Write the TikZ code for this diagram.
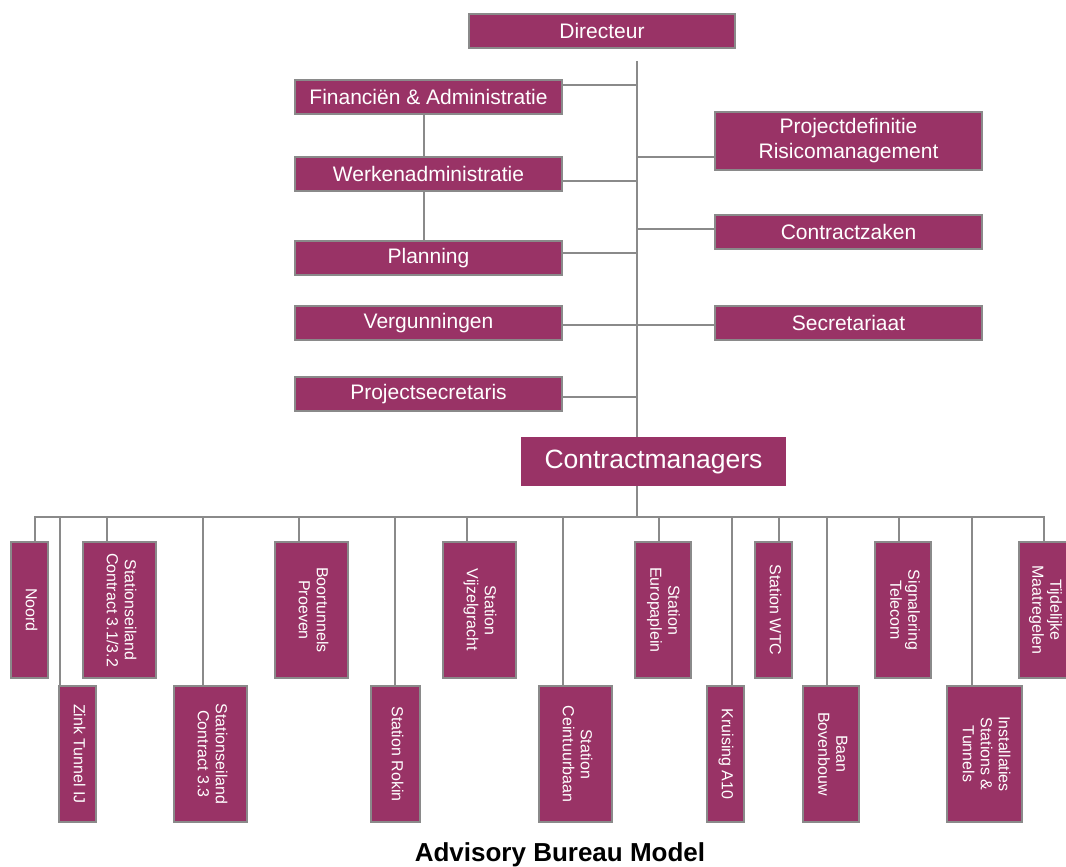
\documentclass[tikz,border=0pt]{standalone}
\usepackage{fontspec}
\setmainfont{Liberation Sans}
\definecolor{plum}{HTML}{993366}
\definecolor{lgray}{HTML}{8A8A8A}
\newcommand{\vtxt}[1]{\rotatebox{-90}{\begin{tabular}{@{}c@{}}#1\end{tabular}}}
\begin{document}
\begin{tikzpicture}[x=1pt,y=-1pt,
  hbox/.style={fill=plum, draw=lgray, line width=2pt, text=white, inner sep=0pt, outer sep=0pt,
    font=\fontsize{21}{25}\selectfont, align=center, minimum width=267pt, minimum height=34pt},
  vbox/.style={fill=plum, draw=lgray, line width=2pt, text=white, inner sep=0pt, outer sep=0pt,
    font=\fontsize{16}{18}\selectfont, minimum height=136pt},
  conn/.style={draw=lgray, line width=2pt}]
\useasboundingbox (0,0) rectangle (1066,867);

% upper boxes
\node[hbox, minimum width=266pt] (dir) at (602,31) {Directeur};
\node[hbox] (fin)  at (428.5,97)  {Financiën \& Administratie};
\node[hbox] (werk) at (428.5,174) {Werkenadministratie};
\node[hbox] (plan) at (428.5,258) {Planning};
\node[hbox] (verg) at (428.5,323) {Vergunningen};
\node[hbox] (psec) at (428.5,394) {Projectsecretaris};
\node[hbox, minimum height=58pt] (pdef) at (848.5,141) {Projectdefinitie\\Risicomanagement};
\node[hbox] (cz)   at (848.5,232) {Contractzaken};
\node[hbox] (sec)  at (848.5,323) {Secretariaat};
\node[hbox, draw=none, minimum width=265pt, minimum height=49pt, font=\fontsize{26.5}{30}\selectfont] (cm) at (653.5,461.5) {Contractmanagers};

% spine
\coordinate (top) at (637,61);
\draw[conn] (top) -- (top |- cm.north);
\coordinate (bus) at (637,517);
\draw[conn] (top |- cm.south) -- (bus);

% side connectors
\coordinate (j1) at (637,85);  \draw[conn] (fin.east |- j1) -- (j1);
\coordinate (j2) at (637,181); \draw[conn] (werk.east |- j2) -- (j2);
\coordinate (j3) at (637,157); \draw[conn] (j3) -- (pdef.west |- j3);
\coordinate (j4) at (637,253); \draw[conn] (plan.east |- j4) -- (j4);
\coordinate (j5) at (637,229); \draw[conn] (j5) -- (cz.west |- j5);
\coordinate (j6) at (637,325); \draw[conn] (verg.east |- j6) -- (sec.west |- j6);
\coordinate (j7) at (637,397); \draw[conn] (psec.east |- j7) -- (j7);
\coordinate (v) at (424,0);
\draw[conn] (fin.south -| v) -- (werk.north -| v);
\draw[conn] (werk.south -| v) -- (plan.north -| v);

% bottom boxes
\node[vbox, minimum width=37pt] (noord) at (29.5,610)  {\vtxt{Noord}};
\node[vbox, minimum width=37pt] (zink)  at (77.5,754)  {\vtxt{Zink Tunnel IJ}};
\node[vbox, minimum width=73pt] (st31)  at (119.5,610) {\vtxt{Stationseiland\\Contract 3.1/3.2}};
\node[vbox, minimum width=73pt] (st33)  at (210.5,754) {\vtxt{Stationseiland\\Contract 3.3}};
\node[vbox, minimum width=73pt] (boor)  at (311.5,610) {\vtxt{Boortunnels\\Proeven}};
\node[vbox, minimum width=49pt] (rokin) at (395.5,754) {\vtxt{Station Rokin}};
\node[vbox, minimum width=73pt] (vijz)  at (479.5,610) {\vtxt{Station\\Vijzelgracht}};
\node[vbox, minimum width=73pt] (ceint) at (575.5,754) {\vtxt{Station\\Ceintuurbaan}};
\node[vbox, minimum width=56pt] (europ) at (663,610)   {\vtxt{Station\\Europaplein}};
\node[vbox, minimum width=37pt] (kruis) at (725.5,754) {\vtxt{Kruising A10}};
\node[vbox, minimum width=37pt] (wtc)   at (773.5,610) {\vtxt{Station WTC}};
\node[vbox, minimum width=56pt] (baan)  at (831,754)   {\vtxt{Baan\\Bovenbouw}};
\node[vbox, minimum width=56pt] (sign)  at (903,610)   {\vtxt{Signalering\\Telecom}};
\node[vbox, minimum width=75pt] (inst)  at (984.5,754) {\vtxt{Installaties\\Stations \&\\Tunnels}};
\node[vbox, minimum width=52pt] (tijd)  at (1045,610)  {\vtxt{Tijdelijke\\Maatregelen}};

% bus and drops
\coordinate (busL) at (35,517);
\coordinate (busR) at (1044,517);
\draw[conn, line cap=rect] (busL) -- (busR);
\foreach \n/\x in {noord/35, zink/59.5, st31/107, st33/203, boor/299, rokin/395, vijz/467,
  ceint/563, europ/659, kruis/732, wtc/779, baan/827, sign/899, inst/972, tijd/1044}{
  \coordinate (d\n) at (\x,517);
  \draw[conn] (d\n) -- (d\n |- \n.north);
}

\node[font=\bfseries\fontsize{26}{30}\selectfont, anchor=base] (title) at (560,861) {Advisory Bureau Model};
\end{tikzpicture}
\end{document}
